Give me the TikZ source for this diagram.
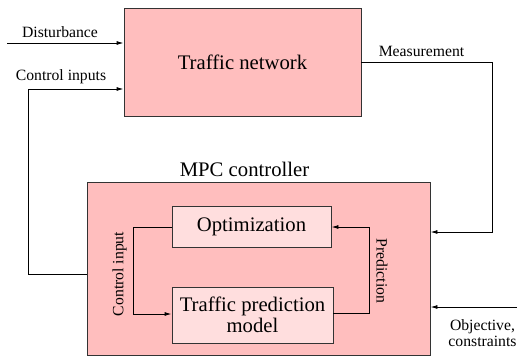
\documentclass[tikz,border=0pt]{standalone}
\usepackage{fontspec}
\setmainfont{Liberation Serif}
\usetikzlibrary{arrows.meta}
\definecolor{outerpink}{HTML}{FFBEBE}
\definecolor{innerpink}{HTML}{FFDEDE}
\definecolor{edgegray}{HTML}{333333}
\begin{document}
\begin{tikzpicture}[x=1pt,y=-1pt,
  line width=0.9pt,
  bigbox/.style={draw=edgegray,fill=outerpink,inner sep=0pt,font=\fontsize{20.7}{23.6}\selectfont},
  smallbox/.style={draw=edgegray,fill=innerpink,inner sep=0pt,align=center,font=\fontsize{20.7}{23.6}\selectfont},
  lbl/.style={inner sep=0pt,font=\fontsize{15.7}{15.7}\selectfont},
  biglbl/.style={inner sep=0pt,font=\fontsize{20.7}{23.6}\selectfont},
  conn/.style={draw=black,line width=0.9pt},
  arr/.style={conn,-{Latex[length=7pt,width=4pt]}}]
\useasboundingbox (0,0) rectangle (517,359);
% boxes
\node[bigbox,minimum width=237pt,minimum height=108pt] (tn) at (242.5,62) {Traffic network};
\node[bigbox,minimum width=343pt,minimum height=173pt] (mpc) at (258.5,268.5) {};
\node[smallbox,minimum width=159pt,minimum height=41pt] (opt) at (251.5,226.5) {Optimization};
\node[smallbox,minimum width=161pt,minimum height=56pt] (tpm) at (252.5,315) {Traffic prediction\\[-2pt]model};
% labels
\node[biglbl,anchor=base] (mpclbl) at (244.5,176) {MPC controller};
\node[lbl,anchor=base] (distlbl) at (60,37.7) {Disturbance};
\node[lbl,anchor=base] (cilbl) at (61,80) {Control inputs};
\node[lbl,anchor=base] (measlbl) at (421.5,56) {Measurement};
\node[lbl,align=center] (objlbl) at (482.5,333) {Objective,\\constraints};
\node[lbl,rotate=90] (cinlbl) at (119.5,274) {Control input};
\node[lbl,rotate=-90] (predlbl) at (382,271) {Prediction};
% coordinates
\coordinate (distin) at (7,43);
\coordinate (cidown) at (28,274);
\coordinate (ciup) at (28,89);
\coordinate (measr) at (492,62);
\coordinate (measd) at (492,232);
\coordinate (objin) at (517,307);
\coordinate (cinl) at (133,227);
\coordinate (cinb) at (133,314);
\coordinate (predr) at (369,313);
\coordinate (predt) at (369,227);
% connectors
\draw[arr] (distin) -- (distin -| tn.west);
\draw[arr] (cidown -| mpc.west) -- (cidown) -- (ciup) -- (ciup -| tn.west);
\draw[arr] (measr -| tn.east) -- (measr) -- (measd) -- (measd -| mpc.east);
\draw[arr] (objin) -- (objin -| mpc.east);
\draw[arr] (cinl -| opt.west) -- (cinl) -- (cinb) -- (cinb -| tpm.west);
\draw[arr] (predr -| tpm.east) -- (predr) -- (predt) -- (predt -| opt.east);
\end{tikzpicture}
\end{document}
